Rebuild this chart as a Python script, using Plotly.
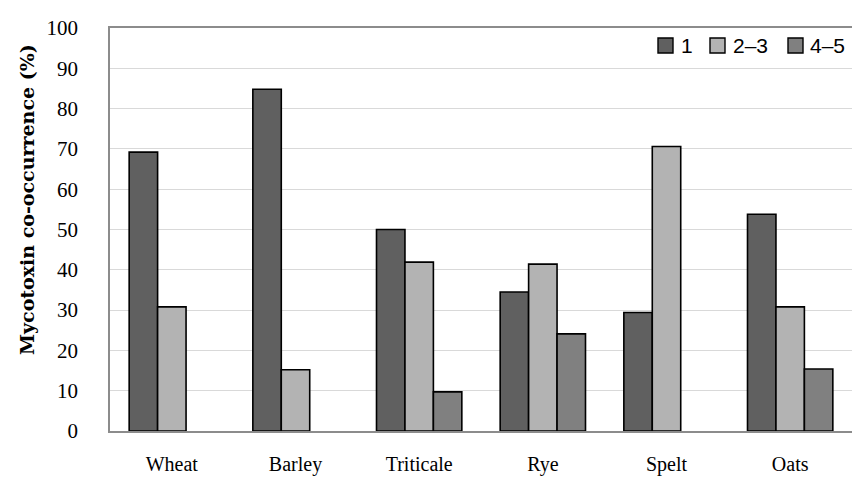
import plotly.graph_objects as go

categories = ["Wheat", "Barley", "Triticale", "Rye", "Spelt", "Oats"]
series_names = ["1", "2–3", "4–5"]
vals_1 = [69.2, 84.8, 50.0, 34.5, 29.4, 53.8]
vals_23 = [30.8, 15.2, 41.9, 41.4, 70.6, 30.8]
vals_45 = [None, None, 9.7, 24.1, None, 15.4]
y_ticks = [0, 10, 20, 30, 40, 50, 60, 70, 80, 90, 100]

colors = ["#606060", "#b3b3b3", "#808080"]

W, H = 854, 478
ML, MR, MT, MB = 110, 2, 28, 47
PW, PH = W - ML - MR, H - MT - MB


def px_x(px):
    return (px - ML) / PW


def px_y(py):
    return (H - MB - py) / PH


fig = go.Figure()
for name, vals, c in zip(series_names, [vals_1, vals_23, vals_45], colors):
    fig.add_trace(go.Bar(
        x=categories, y=vals, name=name,
        marker=dict(color=c, line=dict(color="#000000", width=1.6)),
    ))

serif = "Liberation Serif, DejaVu Serif, serif"
sans = "Liberation Sans, Arial, sans-serif"

# manual legend (top right, inside plot)
leg_sq_x = [658, 710, 788]
leg_tx_x = [679, 731, 808]
for name, c, sx, tx in zip(series_names, colors, leg_sq_x, leg_tx_x):
    fig.add_shape(type="rect", xref="paper", yref="paper",
                  x0=px_x(sx), x1=px_x(sx + 15), y0=px_y(53), y1=px_y(38),
                  fillcolor=c, line=dict(color="#000000", width=1.4))
    fig.add_annotation(xref="paper", yref="paper", x=px_x(tx), y=px_y(46),
                       xanchor="left", yanchor="middle", text=name, showarrow=False,
                       font=dict(family=sans, size=21, color="#000000"))

fig.add_annotation(xref="paper", yref="paper", x=px_x(27), y=px_y(200),
                   xanchor="center", yanchor="middle", textangle=-90,
                   text="<b>Mycotoxin co-occurrence (%)</b>", showarrow=False,
                   font=dict(family="DejaVu Serif, serif", size=19, color="#000000"))

fig.update_layout(
    width=W, height=H,
    margin=dict(l=ML, r=MR, t=MT, b=MB, autoexpand=False),
    paper_bgcolor="white", plot_bgcolor="white",
    barmode="group", bargap=0.31, bargroupgap=0,
    showlegend=False,
    xaxis=dict(
        automargin=False,
        showline=True, linecolor="#8c8c8c", linewidth=1.6, mirror=True,
        showgrid=False, ticks="", ticklabelstandoff=14,
        tickfont=dict(family=serif, size=20, color="#000000"),
    ),
    yaxis=dict(
        automargin=False,
        range=[0, 100], tickvals=y_ticks,
        showline=True, linecolor="#8c8c8c", linewidth=1.6,
        showgrid=True, gridcolor="#d9d9d9", gridwidth=1.4,
        ticks="", ticklabelstandoff=26, zeroline=False,
        tickfont=dict(family=serif, size=21, color="#000000"),
    ),
)

fig.write_html("out.html", config={"displayModeBar": False},
               post_script="document.body.style.margin='0';document.body.style.overflow='hidden';")
